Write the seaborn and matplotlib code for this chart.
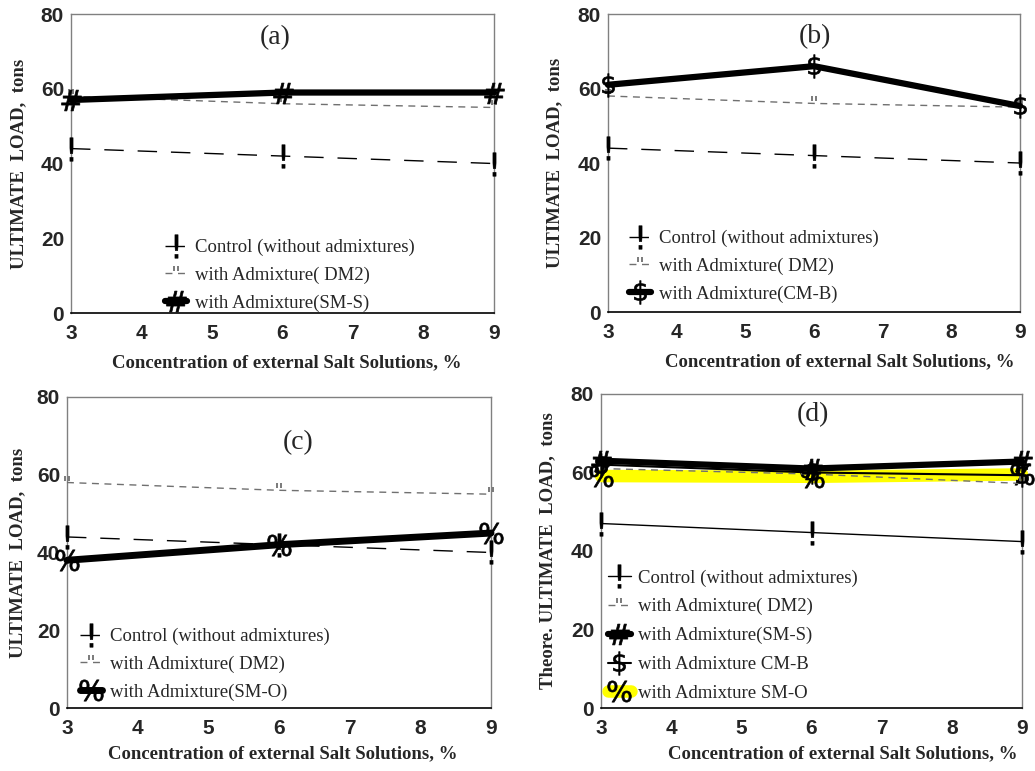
import seaborn as sns
import matplotlib.pyplot as plt
from matplotlib.path import Path

# datos
conc = [3, 6, 9]
control_abc = [44, 42, 40]
dm2_abc = [58, 56, 55]
sm_s_a = [57, 59, 59]
cm_b_b = [61, 66, 55.3]
sm_o_c = [38, 42, 45]

# panel (d) cargas teoricas
control_d = [47, 44.7, 42.4]
dm2_d = [61, 59.6, 57.2]
sm_s_d = [63, 61, 62.8]
cm_b_d = [62, 60, 59.3]
sm_o_d = [59.1, 58.9, 59.5]

lbl_control = "Control (without admixtures)"
lbl_dm2 = "with Admixture( DM2)"

sns.set_style("white")
plt.rcParams["font.family"] = ["Liberation Serif", "DejaVu Serif"]
plt.rcParams["mathtext.fontset"] = "dejavusans"

# marcador tipo comillas (") por encima de la linea
comillas = Path([(-0.25, 0.25), (-0.25, 1.0), (0.25, 0.25), (0.25, 1.0)],
                [Path.MOVETO, Path.LINETO, Path.MOVETO, Path.LINETO])

fig = plt.figure(figsize=(10.35, 7.71), dpi=100)

boxes = [[0.0686, 0.594, 0.4087, 0.3878],
         [0.5874, 0.5953, 0.3981, 0.3865],
         [0.0647, 0.0817, 0.4097, 0.4034],
         [0.5807, 0.0817, 0.4068, 0.4073]]
axs = [fig.add_axes(b) for b in boxes]


def control(ax, y, ls=(0, (14, 10))):
    sns.lineplot(x=conc, y=y, ax=ax, color="black", lw=1, linestyle=ls, clip_on=False,
                 marker="$!$", markersize=17, markeredgewidth=0.3, markeredgecolor="black",
                 zorder=3, label=lbl_control)


def dm2(ax, y):
    sns.lineplot(x=conc, y=y, ax=ax, color="#707070", lw=1, linestyle=(0, (5, 4)),
                 clip_on=False, marker=comillas, markersize=10, markeredgewidth=1.3,
                 markeredgecolor="#707070", zorder=3, label=lbl_dm2)


def glyph_line(ax, y, glyph, lw, label, color="black", size=17, z=3):
    sns.lineplot(x=conc, y=y, ax=ax, color=color, lw=lw, clip_on=False,
                 marker=glyph, markersize=size, markeredgewidth=0.5,
                 markerfacecolor="black", markeredgecolor="black", zorder=z, label=label)


# (a)
ax = axs[0]
control(ax, control_abc)
dm2(ax, dm2_abc)
glyph_line(ax, sm_s_a, r"$\#$", 4.5, "with Admixture(SM-S)", size=15)

# (b)
ax = axs[1]
control(ax, control_abc)
dm2(ax, dm2_abc)
glyph_line(ax, cm_b_b, r"$\$$", 4.5, "with Admixture(CM-B)")

# (c)
ax = axs[2]
control(ax, control_abc)
dm2(ax, dm2_abc)
glyph_line(ax, sm_o_c, r"$\%$", 5, "with Admixture(SM-O)")

# (d)
ax = axs[3]
control(ax, control_d, ls="-")
dm2(ax, dm2_d)
glyph_line(ax, sm_s_d, r"$\#$", 4.5, "with Admixture(SM-S)", size=15)
glyph_line(ax, cm_b_d, r"$\$$", 1.5, "with Admixture CM-B")
glyph_line(ax, sm_o_d, r"$\%$", 9, "with Admixture SM-O", color="yellow", z=2.8)

panel_lbl = ["(a)", "(b)", "(c)", "(d)"]
panel_pos = [(0.482, 0.92), (0.502, 0.923), (0.545, 0.852), (0.504, 0.933)]
leg_pos = [(0.222, 0.247), (0.05, 0.275), (0.03, 0.257), (0.017, 0.442)]
leg_sp = [0.55, 0.55, 0.55, 0.62]
ylab = ["ULTIMATE  LOAD,  tons"] * 3 + ["Theore. ULTIMATE  LOAD,  tons"]
ylab_x = [-0.104, -0.109, -0.097, -0.107]
xlab_pos = [(0.51, -0.137), (0.563, -0.137), (0.51, -0.119), (0.573, -0.119)]

for i, ax in enumerate(axs):
    ax.set_xlim(3, 9)
    ax.set_ylim(0, 80)
    ax.set_xticks([3, 4, 5, 6, 7, 8, 9])
    ax.set_yticks([0, 20, 40, 60, 80])
    ax.tick_params(length=0)
    ax.tick_params(axis="x", pad=8)
    ax.tick_params(axis="y", pad=5)
    for t in ax.get_xticklabels() + ax.get_yticklabels():
        t.set_family("Liberation Sans")
        t.set_fontweight("bold")
        t.set_fontsize(15)
    for s in ["top", "right", "left"]:
        ax.spines[s].set_color("#808080")
        ax.spines[s].set_linewidth(1)
    ax.spines["bottom"].set_color("black")
    ax.spines["bottom"].set_linewidth(1.2)
    ax.set_xlabel("Concentration of external Salt Solutions, %", fontsize=13.5, fontweight="bold")
    ax.xaxis.set_label_coords(*xlab_pos[i])
    ax.set_ylabel(ylab[i], fontsize=13.5, fontweight="bold")
    ax.yaxis.set_label_coords(ylab_x[i], 0.5)
    ax.text(panel_pos[i][0], panel_pos[i][1], panel_lbl[i], transform=ax.transAxes,
            ha="center", va="center", fontsize=20)
    ax.legend(loc="upper left", bbox_to_anchor=leg_pos[i], frameon=False, fontsize=13.5,
              handlelength=1.2, handletextpad=0.4, labelspacing=leg_sp[i], borderaxespad=0,
              borderpad=0)

plt.savefig("out.png", dpi=100)
plt.close()
